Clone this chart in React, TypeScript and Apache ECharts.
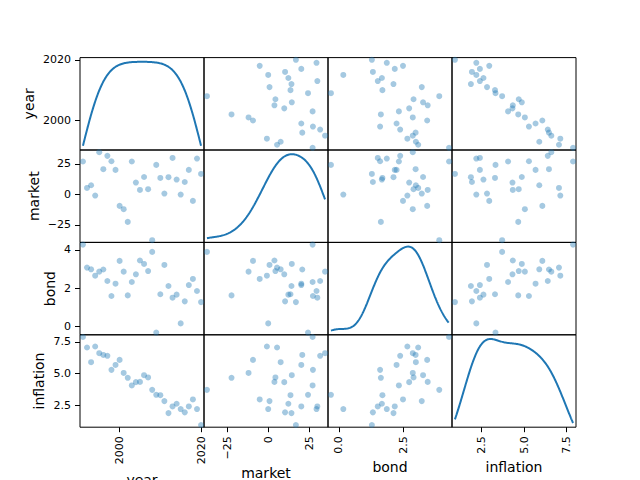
import React, { useEffect, useRef } from "react";
import * as echarts from "echarts";

const columns = ["year", "market", "bond", "inflation"];

const year = [1991, 1992, 1993, 1994, 1995, 1996, 1997, 1998, 1999, 2000, 2001, 2002, 2003, 2004, 2005, 2006, 2007, 2008, 2009, 2010, 2011, 2012, 2013, 2014, 2015, 2016, 2017, 2018, 2019, 2020];
const market = [27.0, 5.3, 7.5, -0.9, 34.6, 20.7, 31.6, 27.2, 20.1, -9.4, -12.1, -22.5, 27.0, 9.7, 3.7, 14.3, 4.3, -37.5, 24.2, 13.5, 0.7, 14.1, 29.9, 12.2, -0.1, 10.2, 20.1, -5.3, 29.4, 16.8];
const bond = [4.28, 3.08, 2.99, 2.66, 2.87, 2.98, 2.38, 1.6, 2.24, 3.43, 2.87, 1.63, 2.33, 2.73, 3.45, 3.27, 2.9, 3.9, -0.31, 1.69, 3.22, 2.12, 1.51, 1.67, 0.17, 1.32, 2.17, 2.49, 1.86, 1.28];
const inflation = [7.89, 7.06, 5.9, 7.14, 6.61, 6.47, 6.4, 5.29, 5.68, 6.08, 5.05, 4.66, 4.06, 4.32, 4.34, 4.87, 4.69, 3.71, 3.32, 3.29, 2.82, 1.87, 2.4, 2.61, 2.19, 1.93, 2.4, 2.95, 2.19, 0.93];

const xTicks: Record<string, number[]> = {
  year: [2000, 2020],
  market: [-25, 0, 25],
  bond: [0, 2.5],
  inflation: [2.5, 5, 7.5],
};
const yTicks: Record<string, number[]> = {
  year: [2000, 2020],
  market: [-25, 0, 25],
  bond: [0, 2, 4],
  inflation: [2.5, 5, 7.5],
};

const minus = (s: string) => s.replace("-", "\u2212");
const xFmt: Record<string, (v: number) => string> = {
  year: (v) => String(Math.round(v)),
  market: (v) => minus(String(Math.round(v))),
  bond: (v) => minus(v.toFixed(1)),
  inflation: (v) => v.toFixed(1),
};
const yFmt: Record<string, (v: number) => string> = {
  year: (v) => String(Math.round(v)),
  market: (v) => minus(String(Math.round(v))),
  bond: (v) => minus(String(Math.round(v))),
  inflation: (v) => v.toFixed(1),
};

const yNameGap: Record<string, number> = { year: 44, market: 39, bond: 23, inflation: 34 };
// vertical centre of each bottom axis title, in pixels from the top of the page
const xNameY: Record<string, number> = { year: 480, market: 472.5, bond: 466.5, inflation: 466.5 };

const FONT = "'DejaVu Sans', sans-serif";
const BLUE = "#1f77b4";

function bounds(v: number[]): [number, number] {
  const mn = Math.min(...v);
  const mx = Math.max(...v);
  const d = ((mx - mn) * 0.05) / 2;
  return [mn - d, mx + d];
}

function kde(v: number[]): number[][] {
  const n = v.length;
  const mean = v.reduce((a, b) => a + b, 0) / n;
  const sd = Math.sqrt(v.reduce((a, b) => a + (b - mean) ** 2, 0) / (n - 1));
  const bw = sd * Math.pow(n, -1 / 5);
  const mn = Math.min(...v);
  const mx = Math.max(...v);
  const pts: number[][] = [];
  const N = 300;
  for (let k = 0; k < N; k++) {
    const x = mn + ((mx - mn) * k) / (N - 1);
    let s = 0;
    for (const d of v) s += Math.exp(-0.5 * ((x - d) / bw) ** 2);
    pts.push([x, s / (n * bw * Math.sqrt(2 * Math.PI))]);
  }
  return pts;
}

export default function App() {
  const ref = useRef<HTMLDivElement>(null);
  useEffect(() => {
    if (!ref.current) return;
    const chart = echarts.init(ref.current, undefined, { renderer: "svg" });
    const data: Record<string, number[]> = { year, market, bond, inflation };
    const n = columns.length;
    const L = 80, T = 57.6, W = 124, H = 92.4;
    const grids: any[] = [];
    const xAxes: any[] = [];
    const yAxes: any[] = [];
    const series: any[] = [];
    const graphics: any[] = [];
    const tickStyle = { color: "#000", width: 1 };
    const labelStyle = { color: "#000", fontSize: 11, fontFamily: FONT };
    const nameStyle = { color: "#000", fontSize: 14, fontFamily: FONT };

    for (let i = 0; i < n; i++) {
      for (let j = 0; j < n; j++) {
        const gi = i * n + j;
        const a = columns[i];
        const b = columns[j];
        grids.push({
          left: L + j * W,
          top: T + i * H,
          width: W,
          height: H,
          show: true,
          borderColor: "#000",
          borderWidth: 1,
          backgroundColor: "transparent",
        });
        const bx = bounds(data[b]);
        const showX = i === n - 1;
        if (showX) {
          graphics.push({
            type: "text",
            silent: true,
            style: {
              text: b,
              x: L + j * W + W / 2,
              y: xNameY[b],
              align: "center",
              verticalAlign: "middle",
              fill: "#000",
              font: "14px 'DejaVu Sans', sans-serif",
            },
          });
        }
        xAxes.push({
          type: "value",
          gridIndex: gi,
          min: bx[0],
          max: bx[1],
          splitLine: { show: false },
          axisLine: { show: false },
          axisTick: { show: showX, customValues: xTicks[b], length: 5, lineStyle: tickStyle },
          axisLabel: {
            show: showX,
            customValues: xTicks[b],
            rotate: 90,
            margin: 9,
            formatter: (v: number) => xFmt[b](v),
            ...labelStyle,
          },
        });
        let yIndex = yAxes.length;
        if (i === j) {
          const pts = kde(data[a]);
          const ys = pts.map((p) => p[1]);
          const kmin = Math.min(...ys);
          const kmax = Math.max(...ys);
          const m = (kmax - kmin) * 0.05;
          yAxes.push({
            type: "value",
            gridIndex: gi,
            min: kmin - m,
            max: kmax + m,
            splitLine: { show: false },
            axisLine: { show: false },
            axisTick: { show: false },
            axisLabel: { show: false },
          });
          series.push({
            type: "line",
            xAxisIndex: gi,
            yAxisIndex: yIndex,
            data: pts,
            showSymbol: false,
            symbol: "none",
            lineStyle: { color: BLUE, width: 2 },
            z: 3,
          });
          if (j === 0) {
            const by = bounds(data[a]);
            yAxes.push({
              type: "value",
              gridIndex: gi,
              position: "left",
              min: by[0],
              max: by[1],
              splitLine: { show: false },
              axisLine: { show: false },
              axisTick: { show: true, customValues: yTicks[a], length: 5, lineStyle: tickStyle },
              axisLabel: {
                show: true,
                customValues: yTicks[a],
                margin: 9,
                formatter: (v: number) => yFmt[a](v),
                ...labelStyle,
              },
              name: a,
              nameLocation: "middle",
              nameGap: yNameGap[a],
              nameMoveOverlap: false,
              nameTextStyle: nameStyle,
            });
          }
        } else {
          const by = bounds(data[a]);
          const showY = j === 0;
          yAxes.push({
            type: "value",
            gridIndex: gi,
            min: by[0],
            max: by[1],
            splitLine: { show: false },
            axisLine: { show: false },
            axisTick: { show: showY, customValues: yTicks[a], length: 5, lineStyle: tickStyle },
            axisLabel: {
              show: showY,
              customValues: yTicks[a],
              margin: 9,
              formatter: (v: number) => yFmt[a](v),
              ...labelStyle,
            },
            name: showY ? a : "",
            nameLocation: "middle",
            nameGap: yNameGap[a],
            nameMoveOverlap: false,
            nameTextStyle: nameStyle,
          });
          series.push({
            type: "scatter",
            xAxisIndex: gi,
            yAxisIndex: yIndex,
            data: data[b].map((x, k) => [x, data[a][k]]),
            symbol: "circle",
            symbolSize: 6,
            itemStyle: { color: "rgba(31,119,180,0.5)" },
            z: 2,
          });
        }
      }
    }

    chart.setOption({
      animation: false,
      backgroundColor: "#fff",
      textStyle: { fontFamily: FONT },
      grid: grids,
      xAxis: xAxes,
      yAxis: yAxes,
      series,
      graphic: graphics,
    });
    return () => chart.dispose();
  }, []);
  return (
    <div
      ref={ref}
      style={{ position: "fixed", left: 0, top: 0, width: 640, height: 480 }}
    />
  );
}
